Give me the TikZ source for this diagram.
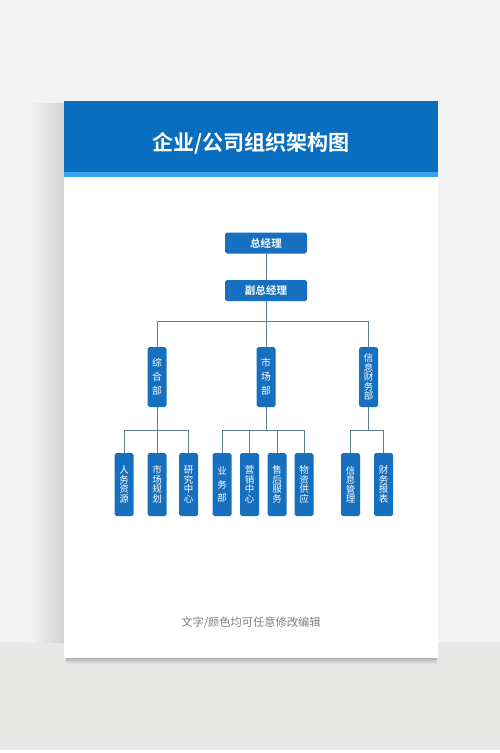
\documentclass[tikz,border=0pt]{standalone}
\usepackage{fontspec}
\usepackage{tikz}
\usetikzlibrary{calc,positioning}
\newfontfamily\cjk{Noto Sans CJK SC}[BoldFont={Noto Sans CJK SC Bold}]
\definecolor{headblue}{HTML}{0A6EC0}
\definecolor{boxblue}{HTML}{1670BF}
\definecolor{stripe}{HTML}{3AA6EE}
\definecolor{linkgray}{HTML}{5C7F96}
\definecolor{wall}{HTML}{F3F3F3}
\definecolor{floor}{HTML}{E8E8E6}

\begin{document}
\begin{tikzpicture}[x=0.5mm,y=-0.5mm,
	topbox/.style={fill=boxblue,rounded corners=2.5pt,minimum width=41mm,minimum height=10.5mm,inner sep=0pt,text=white,font=\cjk\bfseries\fontsize{15}{15}\selectfont},
	deptbox/.style={fill=boxblue,rounded corners=2.5pt,minimum width=9.5mm,minimum height=30mm,inner sep=0pt,text=white,align=center,font=\cjk\fontsize{14}{20}\selectfont},
	leafbox/.style={fill=boxblue,rounded corners=2.5pt,minimum width=9.5mm,minimum height=31.5mm,inner sep=0pt,text=white,align=center,font=\cjk\fontsize{13.5}{13.5}\selectfont},
	link/.style={draw=linkgray,line width=0.5pt}]
		\useasboundingbox (0,0) rectangle (500,753);
		\fill[wall] (0,0) rectangle (500,753);
		\fill[floor] (0,642) rectangle (500,750);
		\fill[white] (0,750) rectangle (500,753);
		\shade[left color=wall,right color=black!18] (30,104) rectangle (64,642);
		\shade[top color=black!30,bottom color=floor] (66,658) rectangle (437,664);
		
		\fill[white] (64,101) rectangle (438,658);
		\fill[headblue] (64,101) rectangle (438,173);
		\fill[stripe] (64,172) rectangle (438,177);
		\node[text=white,font=\cjk\bfseries\fontsize{30}{30}\selectfont] (title) at (251,143) {企业/公司组织架构图};
		
		\node[topbox] (ceo) at (266,243) {总经理};
		\node[topbox] (vp) at (266,290.5) {副总经理};
		
		\node[deptbox] (zh) at (157,377) {综\\合\\部};
		\node[deptbox] (sc) at (266,377) {市\\场\\部};
		\node[deptbox,font=\cjk\fontsize{13.5}{13.5}\selectfont] (cw) at (368.5,377) {信\\息\\财\\务\\部};
		
		\foreach \x/\n/\t in {124/l1/{人\\务\\资\\源},157/l2/{市\\场\\规\\划},188.5/l3/{研\\究\\中\\心},249.5/l5/{营\\销\\中\\心},277/l6/{售\\后\\服\\务},304/l7/{物\\资\\供\\应},350.5/l8/{信\\息\\管\\理},383.5/l9/{财\\务\\报\\表}}
		\node[leafbox] (\n) at (\x,484.5) {\t};
		\node[leafbox,font=\cjk\fontsize{13.5}{19.5}\selectfont] (l4) at (222,484.5) {业\\务\\部};
		
		\coordinate (busA) at (266,321);
		\coordinate (busB) at (157,430);
		\coordinate (busC) at (266,430);
		\coordinate (busD) at (368.5,430);
		
		\draw[link] (ceo) -- (vp);
		\draw[link] (vp) -- (busA);
		\foreach \d in {zh,sc,cw}
		\draw[link] (busA) -| (\d);
		\draw[link] (zh) -- (busB);
		\draw[link] (sc) -- (busC);
		\draw[link] (cw) -- (busD);
		\foreach \l in {1,2,3}
		\draw[link] (busB) -| (l\l);
		\foreach \l in {4,5,6,7}
		\draw[link] (busC) -| (l\l);
		\foreach \l in {8,9}
		\draw[link] (busD) -| (l\l);
		
		\node[text=black!50,font=\cjk\fontsize{16}{16}\selectfont] (note) at (251,623) {文字/颜色均可任意修改编辑};
\end{tikzpicture}
\end{document}
